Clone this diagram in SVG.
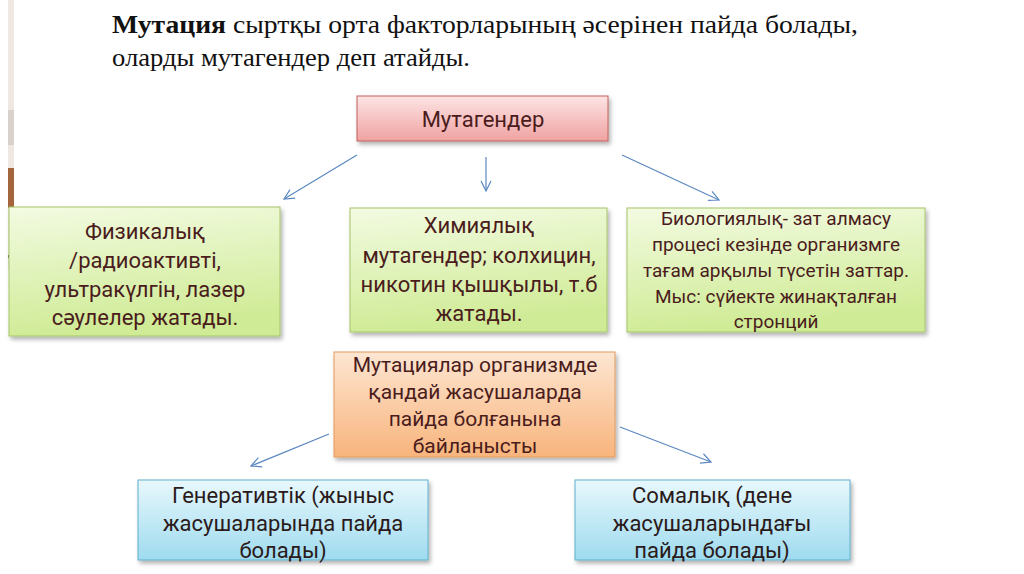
<svg xmlns="http://www.w3.org/2000/svg" width="1024" height="574" viewBox="0 0 1024 574">
<defs>
<linearGradient id="gPink" x1="0" y1="0" x2="0" y2="1"><stop offset="0" stop-color="#fde4e4"/><stop offset="1" stop-color="#f0a2a2"/></linearGradient>
<linearGradient id="gGreen" x1="0" y1="0" x2="0.2" y2="1"><stop offset="0" stop-color="#f3fbe2"/><stop offset="1" stop-color="#cfeb95"/></linearGradient>
<linearGradient id="gOrange" x1="0" y1="0" x2="0" y2="1"><stop offset="0" stop-color="#fde6d2"/><stop offset="1" stop-color="#f8b47c"/></linearGradient>
<linearGradient id="gBlue" x1="0" y1="0" x2="0" y2="1"><stop offset="0" stop-color="#e8f8fd"/><stop offset="1" stop-color="#9edbef"/></linearGradient>
<filter id="sh" x="-10%" y="-10%" width="130%" height="140%"><feDropShadow dx="2" dy="3" stdDeviation="2" flood-color="#000" flood-opacity="0.3"/></filter>
<marker id="ah" viewBox="0 0 12 12" refX="11" refY="6" markerWidth="12" markerHeight="12" markerUnits="userSpaceOnUse" orient="auto"><path d="M1,1 L11,6 L1,11" fill="none" stroke="#5b88c0" stroke-width="1.2"/></marker>
</defs>
<style>
.t{font-family:Roboto,"Noto Sans",sans-serif;text-anchor:middle;fill:#4a1c1c}
.tb{font-family:Roboto,"Noto Sans",sans-serif;text-anchor:middle;fill:#2a1a1a}
.ttl{font-family:"Liberation Serif",serif;font-size:26px;fill:#111}
.c{stroke:#5b88c0;stroke-width:1.2;fill:none;marker-end:url(#ah)}
</style>
<rect width="1024" height="574" fill="#fff"/>
<g id="strip">
<rect x="8" y="0" width="6" height="270" fill="#efe7e2"/>
<rect x="8" y="110" width="6" height="35" fill="#d9d2cc"/>
<rect x="8" y="168" width="6" height="40" fill="#a5653c"/>
<rect x="8" y="255" width="6" height="3" fill="#555"/>
</g>
<g id="title">
<text class="ttl" x="112" y="33" textLength="746" lengthAdjust="spacingAndGlyphs"><tspan font-weight="bold">Мутация</tspan> сыртқы орта факторларының әсерінен пайда болады,</text>
<text class="ttl" x="112" y="66" textLength="358" lengthAdjust="spacingAndGlyphs">оларды мутагендер деп атайды.</text>
</g>
<g id="connectors">
<line class="c" x1="357" y1="155" x2="284" y2="199"/>
<line class="c" x1="486" y1="157" x2="486" y2="191"/>
<line class="c" x1="622" y1="155" x2="719" y2="200"/>
<line class="c" x1="329" y1="434" x2="251" y2="466"/>
<line class="c" x1="620" y1="427" x2="711" y2="462"/>
</g>
<g id="mutagender">
<rect x="357" y="96" width="251" height="45" fill="url(#gPink)" stroke="#c0605c" stroke-width="1" filter="url(#sh)"/>
<text class="t" x="483" y="127" font-size="22" fill="#3c1010">Мутагендер</text>
</g>
<g id="physical">
<rect x="9" y="207" width="271" height="129" fill="url(#gGreen)" stroke="#a6c46a" stroke-width="1" filter="url(#sh)"/>
<text class="t" font-size="22"><tspan x="145" y="239">Физикалық</tspan><tspan x="145" y="268">/радиоактивті,</tspan><tspan x="145" y="297">ультракүлгін, лазер</tspan><tspan x="145" y="325">сәулелер жатады.</tspan></text>
</g>
<g id="chemical">
<rect x="350" y="208" width="257" height="124" fill="url(#gGreen)" stroke="#a6c46a" stroke-width="1" filter="url(#sh)"/>
<text class="t" font-size="22"><tspan x="479" y="233">Химиялық</tspan><tspan x="479" y="263">мутагендер; колхицин,</tspan><tspan x="479" y="292">никотин қышқылы, т.б</tspan><tspan x="479" y="321">жатады.</tspan></text>
</g>
<g id="biological">
<rect x="627" y="208" width="298" height="124" fill="url(#gGreen)" stroke="#a6c46a" stroke-width="1" filter="url(#sh)"/>
<text class="t" font-size="19"><tspan x="776" y="225">Биологиялық- зат алмасу</tspan><tspan x="776" y="251">процесі кезінде организмге</tspan><tspan x="776" y="277">тағам арқылы түсетін заттар.</tspan><tspan x="776" y="303">Мыс: сүйекте жинақталған</tspan><tspan x="776" y="328">стронций</tspan></text>
</g>
<g id="cells">
<rect x="334" y="352" width="281" height="105" fill="url(#gOrange)" stroke="#e39a5e" stroke-width="1" filter="url(#sh)"/>
<text class="t" font-size="21" fill="#3a1a10"><tspan x="475" y="372">Мутациялар организмде</tspan><tspan x="475" y="399">қандай жасушаларда</tspan><tspan x="475" y="426">пайда болғанына</tspan><tspan x="475" y="453">байланысты</tspan></text>
</g>
<g id="generative">
<rect x="138" y="480" width="290" height="80" fill="url(#gBlue)" stroke="#5fb0cc" stroke-width="1" filter="url(#sh)"/>
<text class="tb" font-size="22"><tspan x="283" y="503">Генеративтік (жыныс</tspan><tspan x="283" y="531">жасушаларында пайда</tspan><tspan x="283" y="558">болады)</tspan></text>
</g>
<g id="somatic">
<rect x="575" y="480" width="275" height="80" fill="url(#gBlue)" stroke="#5fb0cc" stroke-width="1" filter="url(#sh)"/>
<text class="tb" font-size="22"><tspan x="712" y="503">Сомалық (дене</tspan><tspan x="712" y="531">жасушаларындағы</tspan><tspan x="712" y="558">пайда болады)</tspan></text>
</g>
</svg>
